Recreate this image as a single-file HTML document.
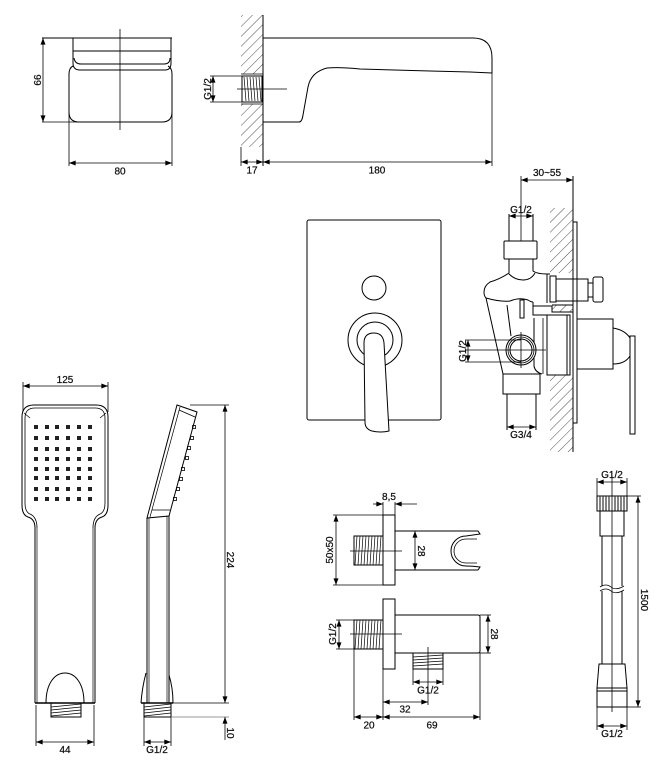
<!DOCTYPE html>
<html><head><meta charset="utf-8"><style>
html,body{margin:0;padding:0;background:#fff;}
svg{display:block}
text{font-family:"Liberation Sans",sans-serif;font-size:10px;fill:#111;stroke:#111;stroke-width:0.25;}
</style></head><body>
<svg width="664" height="781" viewBox="0 0 664 781" xmlns="http://www.w3.org/2000/svg">
<defs>
<marker id="a" viewBox="0 0 8 6" refX="8" refY="3" markerWidth="7" markerHeight="5" markerUnits="userSpaceOnUse" orient="auto-start-reverse"><path d="M0,0L8,3L0,6z" fill="#000"/></marker>
<pattern id="h" width="7" height="7" patternUnits="userSpaceOnUse" patternTransform="rotate(45)"><line x1="0" y1="0" x2="0" y2="7" stroke="#222" stroke-width="0.8"/></pattern>
</defs>

<!-- ========== TOP-LEFT FRONT VIEW ========== -->
<g fill="none" stroke="#000" stroke-width="1">
<line x1="42" y1="38" x2="172" y2="38"/>
<line x1="42" y1="122" x2="80" y2="122" stroke-width="0.8"/>
<path d="M73,38 V63 Q73,70 80,70 H165 Q171,70 171,63 V38"/>
<line x1="73" y1="51" x2="171" y2="51"/>
<path d="M74,58 Q75,64 81,64 H164 Q170,64 170,58"/>
<path d="M73,66 Q69,68 69,74 V112 Q69,122 79,122 H162 Q172,122 172,112 V74 Q172,68 168,66"/>
<line x1="120" y1="29" x2="120" y2="130" stroke-width="0.8"/>
<line x1="43" y1="38" x2="43" y2="122" stroke-width="0.8" marker-start="url(#a)" marker-end="url(#a)"/>
<line x1="69" y1="112" x2="69" y2="166" stroke-width="0.8"/>
<line x1="172" y1="112" x2="172" y2="166" stroke-width="0.8"/>
<line x1="69" y1="163" x2="172" y2="163" stroke-width="0.8" marker-start="url(#a)" marker-end="url(#a)"/>
</g>
<text transform="translate(41,80) rotate(-90)" text-anchor="middle">66</text>
<text x="120" y="174.5" text-anchor="middle">80</text>

<!-- ========== SPOUT ========== -->
<rect x="241" y="15" width="22" height="59" fill="url(#h)"/>
<rect x="241" y="104" width="22" height="43" fill="url(#h)"/>
<g fill="none" stroke="#000" stroke-width="1">
<line x1="263" y1="15" x2="263" y2="166"/>
<line x1="241" y1="74" x2="263" y2="74" stroke-width="0.8"/>
<line x1="241" y1="104" x2="263" y2="104" stroke-width="0.8"/>
<rect x="242" y="76" width="20" height="26"/>
<path d="M244,77 L246,101 M247,77 L249,101 M250,77 L252,101 M253,77 L255,101 M256,77 L258,101 M259,77 L261,101" stroke-width="0.7"/>
<line x1="237" y1="89" x2="287" y2="89" stroke-width="0.8"/>
<line x1="210" y1="76" x2="242" y2="76" stroke-width="0.8"/>
<line x1="210" y1="102" x2="242" y2="102" stroke-width="0.8"/>
<line x1="213" y1="76" x2="213" y2="102" stroke-width="0.8" marker-start="url(#a)" marker-end="url(#a)"/>
<path d="M263,38 H473 Q492,38 492,58 V73"/>
<path d="M263,122 H299 Q302,122 303,115 L308,87 Q311,72 327,68 Q340,67 360,69 L430,71 L470,72 L492,73"/>
<line x1="241" y1="147" x2="241" y2="166" stroke-width="0.8"/>
<line x1="492" y1="73" x2="492" y2="166" stroke-width="0.8"/>
<line x1="241" y1="162" x2="263" y2="162" stroke-width="0.8" marker-start="url(#a)" marker-end="url(#a)"/>
<line x1="263" y1="162" x2="492" y2="162" stroke-width="0.8" marker-start="url(#a)" marker-end="url(#a)"/>
</g>
<text transform="translate(211,89) rotate(-90)" text-anchor="middle">G1/2</text>
<text x="252" y="173.5" text-anchor="middle">17</text>
<text x="377" y="173.5" text-anchor="middle">180</text>

<!-- ========== WALL PLATE ========== -->
<g fill="none" stroke="#000" stroke-width="1">
<rect x="307" y="220" width="134" height="200" rx="2"/>
<circle cx="374" cy="288" r="12"/>
<circle cx="375" cy="340" r="27"/>
<circle cx="375" cy="340" r="18"/>
<path d="M364,343 Q364,333 374,333 Q383,333 384,343 L389,431 Q380,433 372,431 Q365,429 365,422 Z" fill="#fff"/>
</g>

<!-- ========== VALVE SECTION ========== -->
<rect x="550" y="208" width="23" height="65" fill="url(#h)"/>
<rect x="550" y="375" width="23" height="77" fill="url(#h)"/>
<rect x="552" y="305" width="21" height="7" fill="url(#h)"/>
<g fill="none" stroke="#000" stroke-width="1">
<line x1="521" y1="180" x2="573" y2="180" stroke-width="0.8" marker-start="url(#a)" marker-end="url(#a)"/>
<line x1="521" y1="176" x2="521" y2="241" stroke-width="0.8"/>
<line x1="573" y1="176" x2="573" y2="452"/>
<rect x="573" y="222" width="4" height="201"/>
<line x1="509" y1="216" x2="533" y2="216" stroke-width="0.8" marker-start="url(#a)" marker-end="url(#a)"/>
<line x1="509" y1="214" x2="509" y2="241"/>
<line x1="533" y1="214" x2="533" y2="241"/>
<rect x="504" y="241" width="33" height="18" rx="1"/>
<!-- body -->
<path d="M509,259 V273 Q500,279 490,282 Q484,286 484,292 Q484,296 486,298 L503,374"/>
<path d="M509,274 Q515,280 523,280 Q531,280 535,273"/>
<path d="M533,259 V271 Q537,274 547,274 H550"/>
<line x1="547" y1="274" x2="547" y2="303"/>
<path d="M486,298 Q500,302 510,301 Q520,297 528,300 Q531,302 533,302"/>
<path d="M533,302 V306 H552 V312 H573 M552,305 H573"/>
<path d="M533,306 V315 H547"/>
<path d="M534,318 V366 Q535,372 542,374"/>
<line x1="543" y1="318" x2="543" y2="374" stroke-width="0.8"/>
<path d="M507,305 L511,336"/>
<rect x="520" y="300" width="4" height="18"/>
<rect x="550" y="276" width="6" height="26"/>
<rect x="556" y="279" width="32" height="22"/>
<rect x="588" y="283" width="5" height="14"/>
<rect x="593" y="277" width="10" height="25" rx="2"/>
<rect x="547" y="315" width="23" height="60"/>
<line x1="567" y1="315" x2="567" y2="375"/>
<rect x="577" y="319" width="36" height="50"/>
<path d="M613,328 Q625,330 630,338 L630,356 Q625,364 613,364"/>
<rect x="630" y="336" width="5" height="98"/>
<circle cx="521" cy="350" r="15" fill="#fff"/>
<circle cx="521" cy="350" r="13" stroke-width="0.8"/>
<circle cx="521" cy="350" r="11"/>
<line x1="465" y1="350" x2="546" y2="350" stroke-width="0.8"/>
<line x1="521" y1="332" x2="521" y2="368" stroke-width="0.8"/>
<line x1="465" y1="340" x2="521" y2="340" stroke-width="0.8"/>
<line x1="465" y1="362" x2="521" y2="362" stroke-width="0.8"/>
<line x1="468" y1="340" x2="468" y2="362" stroke-width="0.8" marker-start="url(#a)" marker-end="url(#a)"/>
<rect x="503" y="374" width="37" height="20"/>
<line x1="507" y1="394" x2="507" y2="430"/>
<line x1="536" y1="394" x2="536" y2="430"/>
<line x1="507" y1="427" x2="536" y2="427" stroke-width="0.8" marker-start="url(#a)" marker-end="url(#a)"/>
</g>
<text x="547" y="176" text-anchor="middle">30~55</text>
<text x="521" y="213" text-anchor="middle">G1/2</text>
<text transform="translate(466,351) rotate(-90)" text-anchor="middle">G1/2</text>
<text x="521" y="438" text-anchor="middle">G3/4</text>

<!-- ========== HAND SHOWER FRONT ========== -->
<g fill="none" stroke="#000" stroke-width="1">
<line x1="23" y1="382" x2="23" y2="412" stroke-width="0.8"/>
<line x1="108" y1="382" x2="108" y2="412" stroke-width="0.8"/>
<line x1="23" y1="386" x2="108" y2="386" stroke-width="0.8" marker-start="url(#a)" marker-end="url(#a)"/>
<path d="M35,528 Q35,519 28,517 Q22,515 22,505 V417 Q22,405 34,405 H96 Q108,405 108,417 V505 Q108,515 102,517 Q95,519 95,528"/>
<path d="M37,528 Q37,517 30,514 Q25,512 25,503 V418 Q25,408 35,408 H95 Q105,408 105,418 V503 Q105,512 100,514 Q93,517 93,528" stroke-width="0.8"/>
<path d="M24,413 L30,418 M106,413 L100,418" stroke-width="0.7"/>
<line x1="35" y1="528" x2="35" y2="703"/>
<line x1="37" y1="528" x2="37" y2="703" stroke-width="0.7"/>
<line x1="95" y1="528" x2="95" y2="703"/>
<line x1="93" y1="528" x2="93" y2="703" stroke-width="0.7"/>
<line x1="35" y1="703" x2="95" y2="703" stroke-width="1.4"/>
<path d="M46,703 C46,683 55,673 65,673 C75,673 84,683 84,703"/>
<rect x="51" y="703" width="30" height="14"/>
<path d="M51,707 L81,704 M51,710 L81,707 M51,713 L81,710 M51,716 L81,713" stroke-width="0.7"/>
<line x1="36" y1="705" x2="36" y2="746" stroke-width="0.8"/>
<line x1="94" y1="705" x2="94" y2="746" stroke-width="0.8"/>
<line x1="36" y1="742" x2="94" y2="742" stroke-width="0.8" marker-start="url(#a)" marker-end="url(#a)"/>
</g>
<g fill="#222">
<rect x="34" y="425" width="4" height="4"/><rect x="45" y="425" width="4" height="4"/><rect x="55" y="425" width="4" height="4"/><rect x="66" y="425" width="4" height="4"/><rect x="77" y="425" width="4" height="4"/><rect x="88" y="425" width="4" height="4"/>
<rect x="34" y="436" width="4" height="4"/><rect x="45" y="436" width="4" height="4"/><rect x="55" y="436" width="4" height="4"/><rect x="66" y="436" width="4" height="4"/><rect x="77" y="436" width="4" height="4"/><rect x="88" y="436" width="4" height="4"/>
<rect x="34" y="447" width="4" height="4"/><rect x="45" y="447" width="4" height="4"/><rect x="55" y="447" width="4" height="4"/><rect x="66" y="447" width="4" height="4"/><rect x="77" y="447" width="4" height="4"/><rect x="88" y="447" width="4" height="4"/>
<rect x="34" y="457" width="4" height="4"/><rect x="45" y="457" width="4" height="4"/><rect x="55" y="457" width="4" height="4"/><rect x="66" y="457" width="4" height="4"/><rect x="77" y="457" width="4" height="4"/><rect x="88" y="457" width="4" height="4"/>
<rect x="34" y="467" width="4" height="4"/><rect x="45" y="467" width="4" height="4"/><rect x="55" y="467" width="4" height="4"/><rect x="66" y="467" width="4" height="4"/><rect x="77" y="467" width="4" height="4"/><rect x="88" y="467" width="4" height="4"/>
<rect x="34" y="476" width="4" height="4"/><rect x="45" y="476" width="4" height="4"/><rect x="55" y="476" width="4" height="4"/><rect x="66" y="476" width="4" height="4"/><rect x="77" y="476" width="4" height="4"/><rect x="88" y="476" width="4" height="4"/>
<rect x="34" y="487" width="4" height="4"/><rect x="45" y="487" width="4" height="4"/><rect x="55" y="487" width="4" height="4"/><rect x="66" y="487" width="4" height="4"/><rect x="77" y="487" width="4" height="4"/><rect x="88" y="487" width="4" height="4"/>
<rect x="34" y="497" width="4" height="4"/><rect x="45" y="497" width="4" height="4"/><rect x="55" y="497" width="4" height="4"/><rect x="66" y="497" width="4" height="4"/><rect x="77" y="497" width="4" height="4"/><rect x="88" y="497" width="4" height="4"/>
</g>
<text x="65" y="383" text-anchor="middle">125</text>
<text x="65" y="753" text-anchor="middle">44</text>

<!-- ========== HAND SHOWER SIDE ========== -->
<g fill="none" stroke="#000" stroke-width="1">
<path d="M177,405 L197,412 L169,516 L147,518 Z"/>
<line x1="180" y1="407" x2="150" y2="517" stroke-width="0.7"/>
<path d="M179,410 L195,417" stroke-width="0.8"/>
<path d="M152,510 L170,510" stroke-width="0.8"/>
<g stroke-width="0.8">
<rect x="192.5" y="425.5" width="3" height="3"/><rect x="190.5" y="436.5" width="3" height="3"/><rect x="187.5" y="446.5" width="3" height="3"/><rect x="185.5" y="456.5" width="3" height="3"/><rect x="181.5" y="467.5" width="3" height="3"/><rect x="179.5" y="477.5" width="3" height="3"/><rect x="176.5" y="487.5" width="3" height="3"/><rect x="173.5" y="497.5" width="3" height="3"/>
</g>
<line x1="147" y1="518" x2="147" y2="703"/>
<line x1="149" y1="518" x2="149" y2="703" stroke-width="0.7"/>
<line x1="169" y1="516" x2="169" y2="703"/>
<line x1="167" y1="516" x2="167" y2="703" stroke-width="0.7"/>
<path d="M146,673 Q142,688 141,703"/>
<path d="M169,675 Q173,688 173,703"/>
<line x1="141" y1="703" x2="173" y2="703" stroke-width="1.4"/>
<rect x="144" y="703" width="27" height="14"/>
<path d="M144,707 L171,704 M144,710 L171,707 M144,713 L171,710 M144,716 L171,713" stroke-width="0.7"/>
<line x1="144" y1="717" x2="144" y2="746" stroke-width="0.8"/>
<line x1="171" y1="717" x2="171" y2="746" stroke-width="0.8"/>
<line x1="144" y1="742" x2="171" y2="742" stroke-width="0.8" marker-start="url(#a)" marker-end="url(#a)"/>
<line x1="190" y1="405" x2="229" y2="405" stroke-width="0.8"/>
<line x1="173" y1="703" x2="229" y2="703" stroke-width="0.8"/>
<line x1="171" y1="717" x2="229" y2="717" stroke-width="0.8" stroke="#777"/>
<line x1="225" y1="405" x2="225" y2="703" stroke-width="0.8" marker-start="url(#a)" marker-end="url(#a)"/>
<line x1="225" y1="740" x2="225" y2="717" stroke-width="0.8" marker-end="url(#a)"/>
</g>
<text transform="translate(227,560) rotate(90)" text-anchor="middle">224</text>
<text transform="translate(227,733) rotate(90)" text-anchor="middle">10</text>
<text x="157" y="753" text-anchor="middle">G1/2</text>

<!-- ========== WALL ELBOW WITH HOLDER ========== -->
<g fill="none" stroke="#000" stroke-width="1">
<line x1="373" y1="504" x2="383" y2="504" stroke-width="0.8" marker-end="url(#a)"/>
<line x1="417" y1="504" x2="395" y2="504" stroke-width="0.8" marker-end="url(#a)"/>
<line x1="383" y1="502" x2="383" y2="515" stroke-width="0.8"/>
<line x1="395" y1="502" x2="395" y2="515" stroke-width="0.8"/>
<rect x="383" y="515" width="12" height="70"/>
<line x1="333" y1="515" x2="383" y2="515" stroke-width="0.8"/>
<line x1="333" y1="585" x2="383" y2="585" stroke-width="0.8"/>
<line x1="336" y1="515" x2="336" y2="585" stroke-width="0.8" marker-start="url(#a)" marker-end="url(#a)"/>
<rect x="354" y="536" width="29" height="29"/>
<path d="M357,536 L355,565 M360,536 L358,565 M363,536 L361,565 M366,536 L364,565 M369,536 L367,565 M372,536 L370,565 M375,536 L373,565 M378,536 L376,565 M381,536 L379,565" stroke-width="0.7"/>
<line x1="350" y1="551" x2="402" y2="551" stroke-width="0.8"/>
<path d="M395,531 H478 L480,534 Q473,535 466,536 A15,15 0 0 0 466,566 Q473,566 480,567 L478,570 H395"/>
<path d="M477,539 Q471,539 466,539 A12,12 0 0 0 466,563 Q471,563 477,563" stroke-width="0.8"/>
<line x1="415" y1="531" x2="415" y2="570" stroke-width="0.8" marker-start="url(#a)" marker-end="url(#a)"/>
</g>
<text x="389" y="500" text-anchor="middle">8,5</text>
<text transform="translate(333,550) rotate(-90)" text-anchor="middle">50x50</text>
<text transform="translate(418,551) rotate(90)" text-anchor="middle">28</text>

<!-- ========== WALL ELBOW ========== -->
<g fill="none" stroke="#000" stroke-width="1">
<rect x="383" y="599" width="12" height="70"/>
<rect x="354" y="620" width="29" height="29"/>
<path d="M357,620 L355,649 M360,620 L358,649 M363,620 L361,649 M366,620 L364,649 M369,620 L367,649 M372,620 L370,649 M375,620 L373,649 M378,620 L376,649 M381,620 L379,649" stroke-width="0.7"/>
<line x1="350" y1="634" x2="402" y2="634" stroke-width="0.8"/>
<path d="M395,615 H478 Q480,615 480,617 V651 Q480,653 478,653 H395"/>
<line x1="480" y1="615" x2="491" y2="615" stroke-width="0.8"/>
<line x1="480" y1="653" x2="491" y2="653" stroke-width="0.8"/>
<line x1="488" y1="615" x2="488" y2="653" stroke-width="0.8" marker-start="url(#a)" marker-end="url(#a)"/>
<line x1="336" y1="620" x2="354" y2="620" stroke-width="0.8"/>
<line x1="336" y1="649" x2="354" y2="649" stroke-width="0.8"/>
<line x1="339" y1="620" x2="339" y2="649" stroke-width="0.8" marker-start="url(#a)" marker-end="url(#a)"/>
<rect x="413" y="653" width="30" height="16"/>
<path d="M413,657 L443,655 M413,660 L443,658 M413,663 L443,661 M413,666 L443,664" stroke-width="0.7"/>
<line x1="428" y1="647" x2="428" y2="705" stroke-width="0.8"/>
<line x1="413" y1="669" x2="413" y2="685" stroke-width="0.8"/>
<line x1="443" y1="669" x2="443" y2="685" stroke-width="0.8"/>
<line x1="413" y1="682" x2="443" y2="682" stroke-width="0.8" marker-start="url(#a)" marker-end="url(#a)"/>
<line x1="383" y1="702" x2="428" y2="702" stroke-width="0.8" marker-start="url(#a)" marker-end="url(#a)"/>
<line x1="354" y1="649" x2="354" y2="720" stroke-width="0.8"/>
<line x1="383" y1="669" x2="383" y2="720" stroke-width="0.8"/>
<line x1="480" y1="653" x2="480" y2="720" stroke-width="0.8"/>
<line x1="354" y1="717" x2="383" y2="717" stroke-width="0.8" marker-start="url(#a)" marker-end="url(#a)"/>
<line x1="383" y1="717" x2="480" y2="717" stroke-width="0.8" marker-start="url(#a)" marker-end="url(#a)"/>
</g>
<text transform="translate(491,634) rotate(90)" text-anchor="middle">28</text>
<text transform="translate(336,634) rotate(-90)" text-anchor="middle">G1/2</text>
<text x="428" y="693.5" text-anchor="middle">G1/2</text>
<text x="405" y="712.5" text-anchor="middle">32</text>
<text x="369" y="728.5" text-anchor="middle">20</text>
<text x="432" y="728.5" text-anchor="middle">69</text>

<!-- ========== HOSE ========== -->
<g fill="none" stroke="#000" stroke-width="1">
<line x1="597" y1="478" x2="597" y2="496" stroke-width="0.8"/>
<line x1="627" y1="478" x2="627" y2="496" stroke-width="0.8"/>
<line x1="597" y1="482" x2="627" y2="482" stroke-width="0.8" marker-start="url(#a)" marker-end="url(#a)"/>
<rect x="597" y="496" width="30" height="15"/>
<path d="M600,496 V511 M603,496 V511 M606,496 V511 M609,496 V511 M615,496 V511 M618,496 V511 M621,496 V511 M624,496 V511" stroke-width="1.2" stroke="#333"/>
<rect x="600" y="511" width="24" height="25"/>
<line x1="602" y1="536" x2="602" y2="586"/>
<line x1="622" y1="536" x2="622" y2="586"/>
<line x1="602" y1="591" x2="602" y2="664"/>
<line x1="622" y1="591" x2="622" y2="664"/>
<path d="M600,587 Q606,583 611,587 Q616,591 624,586" stroke-width="0.8"/>
<path d="M600,591 Q606,587 611,591 Q616,595 624,590" stroke-width="0.8"/>
<path d="M599,664 H625 L627,688 H597 Z"/>
<line x1="597" y1="691" x2="627" y2="691"/>
<rect x="597" y="688" width="30" height="19"/>
<line x1="612" y1="476" x2="612" y2="712" stroke-width="0.8"/>
<line x1="627" y1="496" x2="641" y2="496" stroke-width="0.8"/>
<line x1="627" y1="707" x2="641" y2="707" stroke-width="0.8"/>
<line x1="638" y1="496" x2="638" y2="707" stroke-width="0.8" marker-start="url(#a)" marker-end="url(#a)"/>
<line x1="597" y1="707" x2="597" y2="730" stroke-width="0.8"/>
<line x1="627" y1="707" x2="627" y2="730" stroke-width="0.8"/>
<line x1="597" y1="726" x2="627" y2="726" stroke-width="0.8" marker-start="url(#a)" marker-end="url(#a)"/>
</g>
<text x="612" y="478" text-anchor="middle">G1/2</text>
<text transform="translate(641,600) rotate(90)" text-anchor="middle">1500</text>
<text x="612" y="737" text-anchor="middle">G1/2</text>
</svg>
</body></html>
